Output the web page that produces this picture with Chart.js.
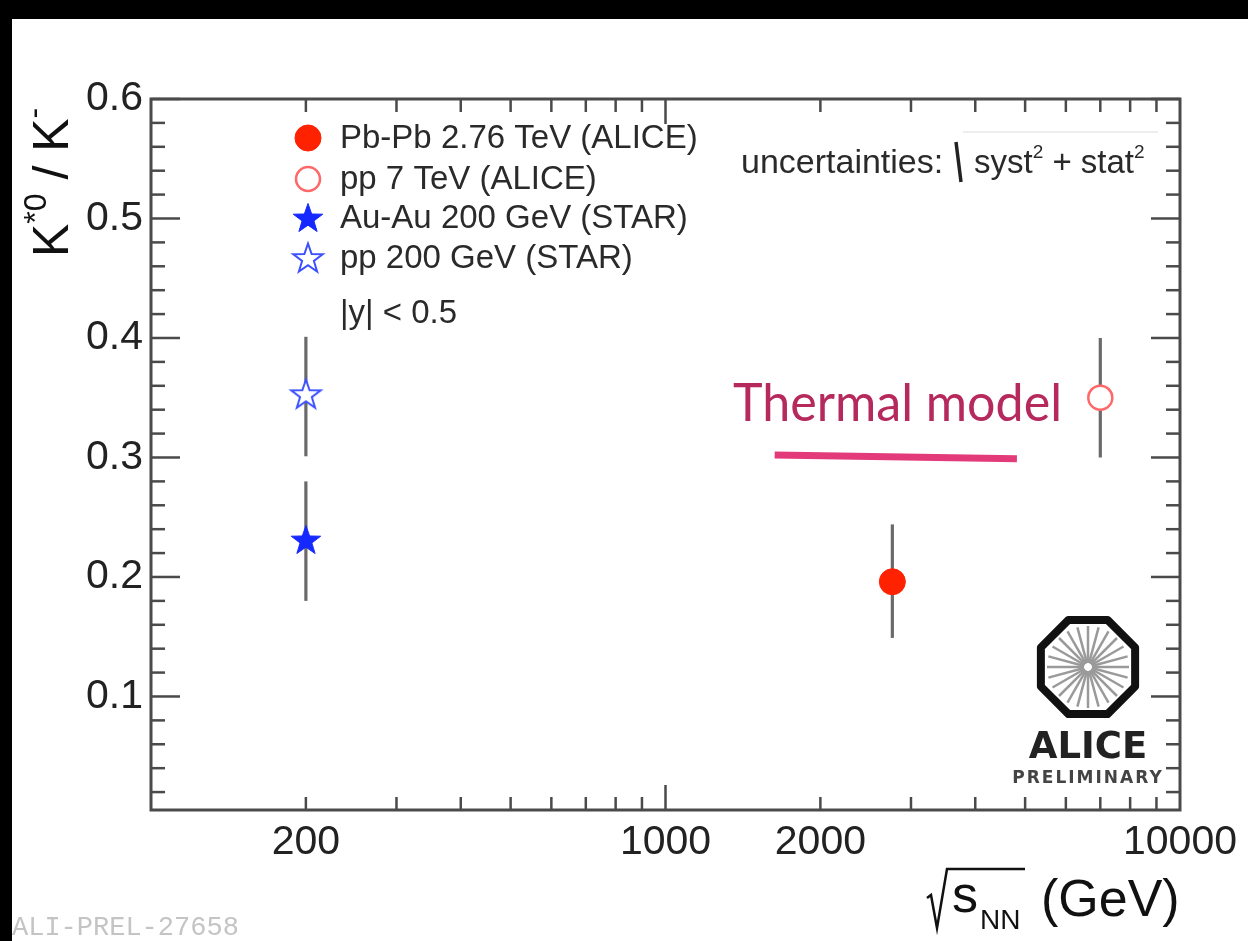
<!DOCTYPE html>
<html>
<head>
<meta charset="utf-8">
<script src="https://cdn.jsdelivr.net/npm/chart.js@4.4.1/dist/chart.umd.min.js"></script>
<style>
  html,body{margin:0;padding:0;background:#fff;}
  #wrap{width:1248px;height:941px;position:relative;}
</style>
</head>
<body>
<div id="wrap"><canvas id="chart" width="1248" height="941"></canvas></div>
<script>
// data
const seriesNames = ['Pb-Pb 2.76 TeV (ALICE)', 'pp 7 TeV (ALICE)', 'Au-Au 200 GeV (STAR)', 'pp 200 GeV (STAR)'];
const sqrtS   = [2760, 7000, 200, 200];
const ratio   = [0.196, 0.350, 0.231, 0.353];
const errLow  = [0.149, 0.300, 0.180, 0.301];
const errHigh = [0.244, 0.400, 0.280, 0.401];
const thermalX = [1630, 4820];
const thermalY = [0.302, 0.299];
const xTickVals = [200, 1000, 2000, 10000];
const xMinorVals = [200, 300, 400, 500, 600, 700, 800, 900, 2000, 3000, 4000, 5000, 6000, 7000, 8000, 9000];
const xMajorVals = [1000];
const yTickVals = [0.1, 0.2, 0.3, 0.4, 0.5, 0.6];

const BLUE = '#1428ff';
const SANS = '"Liberation Sans", Arial, sans-serif';

function starCanvas(filled){
  const c = document.createElement('canvas'); c.width = c.height = 36;
  const g = c.getContext('2d');
  g.beginPath();
  for(let i=0;i<10;i++){
    const r = i%2 ? 6.2 : 15.5;
    const a = -Math.PI/2 + i*Math.PI/5;
    g.lineTo(18 + r*Math.cos(a), 19 + r*Math.sin(a));
  }
  g.closePath();
  g.fillStyle = filled ? BLUE : '#fff'; g.fill();
  g.strokeStyle = filled ? BLUE : '#3c50ff'; g.lineWidth = filled ? 1 : 2; g.stroke();
  return c;
}
const starFull = starCanvas(true);
const starOpen = starCanvas(false);

// marker styles per series
const markers = [
  {pointStyle:'circle', radius:13, bg:'#ff2200', border:'#ff2200', bw:1},
  {pointStyle:'circle', radius:12, bg:'#ffffff', border:'#ff6868', bw:2.5},
  {pointStyle:starFull, radius:16, bg:BLUE, border:BLUE, bw:1},
  {pointStyle:starOpen, radius:16, bg:'#fff', border:BLUE, bw:1},
];

function seg(ctx,x1,y1,x2,y2){ ctx.beginPath(); ctx.moveTo(x1,y1); ctx.lineTo(x2,y2); ctx.stroke(); }

function drawMarker(ctx, i, x, y){
  const m = markers[i];
  if(m.pointStyle === 'circle'){
    ctx.beginPath(); ctx.arc(x, y, m.radius, 0, Math.PI*2);
    ctx.fillStyle = m.bg; ctx.fill();
    ctx.strokeStyle = m.border; ctx.lineWidth = m.bw; ctx.stroke();
  } else {
    const c = m.pointStyle;
    ctx.drawImage(c, x - c.width/2, y - c.height/2);
  }
}

const decor = {
  id: 'decor',
  beforeDraw(chart){
    const ctx = chart.ctx;
    ctx.save();
    ctx.fillStyle = '#fff'; ctx.fillRect(0,0,chart.width,chart.height);
    ctx.fillStyle = '#000';
    ctx.fillRect(0,0,chart.width,19);
    ctx.fillRect(0,0,12,chart.height);
    ctx.restore();
  },
  beforeDatasetsDraw(chart){
    // error bars
    const {ctx, scales:{x,y}} = chart;
    ctx.save(); ctx.strokeStyle = '#6a6a6a'; ctx.lineWidth = 3.2;
    sqrtS.forEach((s,i)=>{
      const px = x.getPixelForValue(s);
      seg(ctx, px, y.getPixelForValue(errHigh[i]), px, y.getPixelForValue(errLow[i]));
    });
    ctx.restore();
  },
  afterDatasetsDraw(chart){
    const {ctx, chartArea:a, scales:{x,y}} = chart;
    ctx.save();
    // frame + inside ticks on all four sides
    ctx.strokeStyle = '#4a4a4a'; ctx.lineWidth = 2.5;
    for(let k=1;k<30;k++){
      const v = k*0.02; if(k%5===0) continue;
      const p = y.getPixelForValue(v);
      seg(ctx,a.left,p,a.left+14,p); seg(ctx,a.right,p,a.right-14,p);
    }
    yTickVals.forEach(v=>{
      const p = y.getPixelForValue(v);
      seg(ctx,a.left,p,a.left+29,p); seg(ctx,a.right,p,a.right-29,p);
    });
    xMinorVals.forEach(v=>{
      const p = x.getPixelForValue(v);
      seg(ctx,p,a.bottom,p,a.bottom-13); seg(ctx,p,a.top,p,a.top+13);
    });
    xMajorVals.forEach(v=>{
      const p = x.getPixelForValue(v);
      seg(ctx,p,a.bottom,p,a.bottom-25); seg(ctx,p,a.top,p,a.top+25);
    });
    ctx.lineWidth = 3;
    ctx.strokeRect(a.left, a.top, a.right-a.left, a.bottom-a.top);

    // legend
    const rowY = [138, 179, 218, 258];
    ctx.fillStyle = '#2a2a2a'; ctx.font = '33px ' + SANS; ctx.textBaseline = 'alphabetic';
    seriesNames.forEach((n,i)=>{
      drawMarker(ctx, i, 308, rowY[i]);
      ctx.fillStyle = '#2a2a2a';
      ctx.fillText(n, 340, rowY[i] + 10);
    });
    ctx.fillText('|y| < 0.5', 340, 323);

    // uncertainties note
    ctx.font = '34px ' + SANS;
    ctx.fillText('uncertainties:', 741, 173);
    ctx.strokeStyle = '#222'; ctx.lineWidth = 3.5;
    seg(ctx, 956, 142, 961, 182);
    ctx.strokeStyle = '#ddd'; ctx.lineWidth = 1;
    seg(ctx, 963, 132, 1158, 132);
    let cx = 974;
    const part = (t, size, dy) => { ctx.font = size + 'px ' + SANS; ctx.fillText(t, cx, 173 + dy); cx += ctx.measureText(t).width; };
    part('syst', 33, 0); part('2', 19, -15); part(' + stat', 33, 0); part('2', 19, -15);

    // y axis title
    ctx.save();
    ctx.translate(68, 257); ctx.rotate(-Math.PI/2);
    ctx.fillStyle = '#111';
    let tx = 0;
    const yp = (t, size, dy) => { ctx.font = size + 'px ' + SANS; ctx.fillText(t, tx, dy); tx += ctx.measureText(t).width; };
    yp('K', 50, 0); yp('*0', 32, -22); yp(' / ', 50, 0); yp('K', 50, 0); yp('-', 32, -24);
    ctx.restore();

    // x axis title
    ctx.fillStyle = '#111'; ctx.strokeStyle = '#111'; ctx.lineWidth = 2.5;
    ctx.beginPath(); ctx.moveTo(927,898); ctx.lineTo(931,895); ctx.lineTo(937,928); ctx.lineTo(947,869); ctx.lineTo(1025,869); ctx.stroke();
    ctx.font = '52px ' + SANS; ctx.fillText('s', 952, 912);
    ctx.font = '28px ' + SANS; ctx.fillText('NN', 980, 929);
    ctx.font = '52px ' + SANS; ctx.fillText('(GeV)', 1041, 916);

    // thermal model label
    ctx.save();
    ctx.font = '52px Lato, sans-serif';
    const w = ctx.measureText('Thermal model').width;
    ctx.translate(733, 421); ctx.scale(329/w, 1);
    ctx.fillStyle = '#b6295d'; ctx.fillText('Thermal model', 0, 0);
    ctx.restore();

    // ALICE logo
    const lx = 1088, ly = 667;
    ctx.strokeStyle = '#9a9a9a'; ctx.lineWidth = 2.5;
    for(let k=0;k<24;k++){
      const an = k*Math.PI/12;
      seg(ctx, lx+4*Math.cos(an), ly+4*Math.sin(an), lx+41*Math.cos(an), ly+41*Math.sin(an));
    }
    ctx.strokeStyle = '#111'; ctx.lineWidth = 8; ctx.lineJoin = 'round';
    ctx.beginPath();
    for(let k=0;k<8;k++){
      const an = Math.PI/8 + k*Math.PI/4;
      ctx.lineTo(lx + 51*Math.cos(an), ly + 51*Math.sin(an));
    }
    ctx.closePath(); ctx.stroke();
    ctx.textAlign = 'center'; ctx.fillStyle = '#222';
    ctx.font = 'bold 37px "DejaVu Sans", sans-serif';
    ctx.fillText('ALICE', lx, 758);
    ctx.font = 'bold 17px "DejaVu Sans", sans-serif'; ctx.letterSpacing = '2px';
    ctx.fillStyle = '#444';
    ctx.fillText('PRELIMINARY', lx, 783);
    ctx.letterSpacing = '0px';

    // watermark
    ctx.textAlign = 'left'; ctx.fillStyle = '#c4c4c4';
    ctx.font = '27px "Liberation Mono", monospace';
    ctx.fillText('ALI-PREL-27658', 12, 935);
    ctx.restore();
  }
};

const datasets = [{
  type: 'line',
  data: thermalX.map((v,i)=>({x:v, y:thermalY[i]})),
  borderColor: '#e33b7a', borderWidth: 7, pointRadius: 0, showLine: true, borderCapStyle: 'butt'
}];
seriesNames.forEach((n,i)=>{
  const m = markers[i];
  datasets.push({
    label: n,
    data: [{x: sqrtS[i], y: ratio[i]}],
    pointStyle: m.pointStyle, pointRadius: m.radius,
    backgroundColor: m.bg, borderColor: m.border, borderWidth: m.bw
  });
});

new Chart(document.getElementById('chart'), {
  type: 'scatter',
  data: { datasets },
  options: {
    responsive: false, animation: false, events: [],
    layout: { padding: { top: 99, right: 68, left: 0, bottom: 0 } },
    plugins: { legend: { display: false }, tooltip: { enabled: false } },
    scales: {
      x: {
        type: 'logarithmic', min: 100, max: 10000,
        afterFit(s){ s.height = 131; },
        afterBuildTicks(s){ s.ticks = xTickVals.map(v=>({value:v})); },
        grid: { display: false, drawTicks: false }, border: { display: false },
        ticks: { autoSkip: false, maxRotation: 0, padding: 8, color: '#222',
          font: { size: 41, family: SANS }, callback: v => String(v) }
      },
      y: {
        min: 0.005, max: 0.6,
        afterFit(s){ s.width = 151; },
        afterBuildTicks(s){ s.ticks = yTickVals.map(v=>({value:v})); },
        grid: { display: false, drawTicks: false }, border: { display: false },
        ticks: { padding: 8, color: '#222', font: { size: 41, family: SANS },
          callback: v => String(Math.round(v*10)/10) }
      }
    }
  },
  plugins: [decor]
});
</script>
</body>
</html>
